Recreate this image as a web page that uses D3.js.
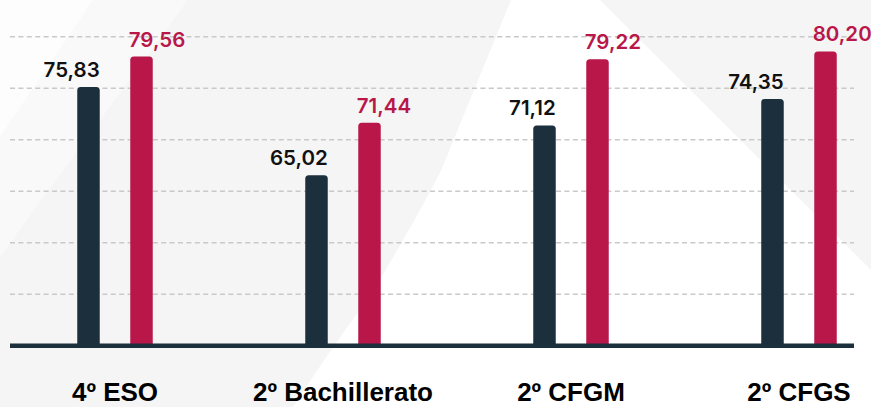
<!DOCTYPE html>
<html>
<head>
<meta charset="utf-8">
<script src="https://cdn.jsdelivr.net/npm/d3@7/dist/d3.min.js"></script>
<style>
  html, body { margin: 0; padding: 0; background: #f5f5f5; }
  svg { display: block; }
</style>
</head>
<body>
<svg id="chart" width="871" height="407"></svg>
<script>
// ---- data ----
const categories = ["4º ESO", "2º Bachillerato", "2º CFGM", "2º CFGS"];
const seriesNames = ["serieA", "serieB"];
const valuesA = [75.83, 65.02, 71.12, 74.35];
const valuesB = [79.56, 71.44, 79.22, 80.20];
const labelsA = ["75,83", "65,02", "71,12", "74,35"];
const labelsB = ["79,56", "71,44", "79,22", "80,20"];
const gridCount = 6;

// ---- styles ----
const W = 871, H = 407;
const colors = { serieA: "#1b2f3c", serieB: "#b9174a" };
const labelColors = { serieA: "#111111", serieB: "#b9174a" };

const svg = d3.select("#chart");

// background decoration
const bg = svg.append("g");
bg.append("rect").attr("width", W).attr("height", H).attr("fill", "#f5f5f5");
bg.append("path").attr("d", "M0,0 L188,0 L0,257 Z").attr("fill", "#f9f9f9");
bg.append("path").attr("d", "M0,0 L93,0 L0,137 Z").attr("fill", "#fdfdfd");
bg.append("path")
  .attr("d", "M511,0 L600,0 L871,270 L871,407 L293,407 Q330,350 367,300 Q405,240 440,173 Z")
  .attr("fill", "#ffffff");

// scales
const y = d3.scaleLinear().domain([44.1, 82.0]).range([345.7, 36.7]);
const x0 = d3.scalePoint().domain(categories).range([115, 799]);
const x1 = d3.scaleBand().domain(seriesNames).range([-37.75, 37.75]).paddingInner(0.5755);

const left = 10, right = 854;

// gridlines
const [y0px, y1px] = y.range();
const gridY = d3.range(1, gridCount + 1).map(i => y0px + (y1px - y0px) * i / gridCount);
svg.append("g").selectAll("line").data(gridY).join("line")
  .attr("x1", left).attr("x2", right)
  .attr("y1", d => d).attr("y2", d => d)
  .attr("stroke", "#c9c9c9").attr("stroke-width", 1.6)
  .attr("stroke-dasharray", "5,3.4");

// bar data
const rows = [];
categories.forEach((c, i) => {
  rows.push({ cat: c, s: "serieA", v: valuesA[i], label: labelsA[i] });
  rows.push({ cat: c, s: "serieB", v: valuesB[i], label: labelsB[i] });
});

function roundTopRect(x, yTop, w, yBot, r) {
  return `M${x},${yBot} L${x},${yTop + r} Q${x},${yTop} ${x + r},${yTop} ` +
         `L${x + w - r},${yTop} Q${x + w},${yTop} ${x + w},${yTop + r} L${x + w},${yBot} Z`;
}

const base = y.range()[0];
svg.append("g").selectAll("path").data(rows).join("path")
  .attr("d", d => roundTopRect(x0(d.cat) + x1(d.s), y(d.v), x1.bandwidth(), base, 3.5))
  .attr("fill", d => colors[d.s]);

// baseline
svg.append("line")
  .attr("x1", left).attr("x2", right)
  .attr("y1", base).attr("y2", base)
  .attr("stroke", "#1b2f3c").attr("stroke-width", 4.5);

// value labels
svg.append("g").selectAll("text").data(rows).join("text")
  .attr("x", d => d.s === "serieA" ? x0(d.cat) + x1(d.s) + x1.bandwidth() : x0(d.cat) + x1(d.s) - 1.5)
  .attr("y", d => y(d.v) - 10)
  .attr("text-anchor", d => d.s === "serieA" ? "end" : "start")
  .attr("font-family", "Inter, 'Open Sans', sans-serif")
  .attr("font-weight", 600)
  .attr("font-size", 20.5)
  .attr("fill", d => labelColors[d.s])
  .text(d => d.label);

// category labels
svg.append("g").selectAll("text").data(categories).join("text")
  .attr("x", d => x0(d))
  .attr("y", 401)
  .attr("text-anchor", "middle")
  .attr("font-family", "'Liberation Sans', Arial, sans-serif")
  .attr("font-weight", 700)
  .attr("font-size", 26)
  .attr("fill", "#000")
  .text(d => d);
</script>
</body>
</html>
